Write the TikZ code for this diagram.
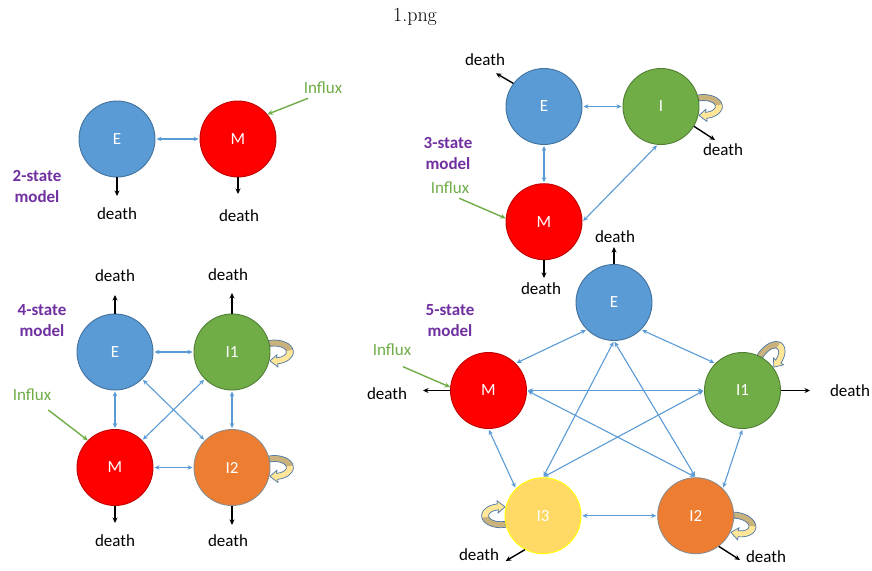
\documentclass[tikz,border=0pt]{standalone}
\usepackage{fontspec}
\newfontfamily\carl{Carlito}
\usetikzlibrary{arrows.meta}
\definecolor{eblue}{HTML}{5B9BD5}
\definecolor{eblued}{HTML}{41719C}
\definecolor{mred}{HTML}{FF0000}
\definecolor{mredd}{HTML}{C00000}
\definecolor{igreen}{HTML}{70AD47}
\definecolor{igreend}{HTML}{507E32}
\definecolor{iorange}{HTML}{ED7D31}
\definecolor{iorganged}{HTML}{8C8C8C}
\definecolor{iyellow}{HTML}{FFD966}
\definecolor{iyellowd}{HTML}{FFFF00}
\definecolor{mpurple}{HTML}{7030A0}
\definecolor{loopl}{HTML}{FFE699}
\definecolor{loopd}{HTML}{C9B27C}
\definecolor{loopo}{HTML}{4A76A8}
\pgfdeclarelayer{bg}
\pgfdeclarelayer{paper}
\pgfsetlayers{paper,bg,main}
\tikzset{
  st/.style={circle, minimum size=76pt, inner sep=0pt, line width=0.9pt, text=white, font=\carl\fontsize{17}{20}\selectfont},
  se/.style={st, fill=eblue, draw=eblued},
  sm/.style={st, fill=mred, draw=mredd},
  si/.style={st, fill=igreen, draw=igreend},
  so/.style={st, fill=iorange, draw=iorganged},
  sy/.style={st, fill=iyellow, draw=iyellowd},
  lab/.style={font=\carl\fontsize{17}{20}\selectfont, inner sep=0pt},
  mdl/.style={font=\carl\bfseries\fontsize{17}{21}\selectfont, text=mpurple, align=center, inner sep=0pt},
  inf/.style={lab, text=igreen},
  conn/.style={draw=eblue, line width=1.1pt, {Stealth[length=5pt,width=4.5pt]}-{Stealth[length=5pt,width=4.5pt]}, shorten <=1pt, shorten >=1pt},
  dth/.style={draw=black, line width=1.4pt, -{Stealth[length=5.5pt,width=5pt]}},
  infar/.style={draw=igreen, line width=1.4pt, -{Stealth[length=5.5pt,width=5pt]}},
  selfloop/.pic={
    \fill[loopl] (-2.5pt,11.28pt) arc[start angle=110,end angle=-80,x radius=19pt,y radius=12pt] -- (7.6pt,-15pt) -- (-0.5pt,-8.9pt) -- (6.6pt,-2.6pt) -- (6.08pt,-5.91pt) arc[start angle=-80,end angle=110,x radius=12pt,y radius=6pt] -- cycle;
    \fill[loopd] (-2.5pt,11.28pt) arc[start angle=110,end angle=10,x radius=19pt,y radius=12pt] -- (15.82pt,1.04pt) arc[start angle=10,end angle=110,x radius=12pt,y radius=6pt] -- cycle;
    \draw[loopo, line width=0.7pt, line join=round] (-2.5pt,11.28pt) arc[start angle=110,end angle=-80,x radius=19pt,y radius=12pt] -- (7.6pt,-15pt) -- (-0.5pt,-8.9pt) -- (6.6pt,-2.6pt) -- (6.08pt,-5.91pt) arc[start angle=-80,end angle=110,x radius=12pt,y radius=6pt] -- cycle;
  }
}
\begin{document}
\begin{tikzpicture}[x=1pt,y=-1pt]
\useasboundingbox (0,0) rectangle (872,570);
\begin{pgfonlayer}{paper}
\fill[white] (0,0) rectangle (872,570);
\end{pgfonlayer}
\node[font=\fontsize{20}{24}\selectfont, inner sep=0pt] (title) at (415,17) {1.png};

% ---------- 2-state ----------
\node[se] (E2) at (117,139) {E};
\node[sm] (M2) at (238,139) {M};
\node[mdl] (L2) at (37,186.5) {2-state\\model};
\node[inf] (F2) at (323,88) {Influx};
\coordinate (f2) at (308,98.3);
\coordinate (d2e) at (117,196);
\coordinate (d2m) at (238,194);
\node[lab] (D2e) at (117,214) {death};
\node[lab] (D2m) at (239,216) {death};
\draw[conn] (E2.east) -- (M2.west);
\draw[dth] (E2.south) -- (d2e);
\draw[dth] (M2.south) -- (d2m);
\draw[infar] (f2) -- (M2.40);

% ---------- 3-state ----------
\node[se] (E3) at (544,106.5) {E};
\node[si] (I3) at (661,106.5) {I};
\node[sm] (M3) at (544,221.7) {M};
\node[mdl] (L3) at (448,153) {3-state\\model};
\node[inf] (F3) at (450,188) {Influx};
\coordinate (f3) at (459.3,198.3);
\coordinate (d3e) at (496,73.3);
\coordinate (d3i) at (715,140);
\coordinate (d3m) at (544,278);
\node[lab] (D3e) at (485,60) {death};
\node[lab] (D3i) at (723,150) {death};
\node[lab] (D3m) at (541,289) {death};
\draw[conn] (E3.east) -- (I3.west);
\draw[conn] (E3.south) -- (M3.north);
\draw[conn] (I3.-95) -- (M3.east);
\draw[dth] (E3.143) -- (d3e);
\draw[dth] (I3.-31) -- (d3i);
\draw[dth] (M3.south) -- (d3m);
\draw[infar] (f3) -- (M3.175);
\begin{pgfonlayer}{bg}
\pic at (I3.east) {selfloop};
\end{pgfonlayer}

% ---------- 4-state ----------
\node[se] (E4) at (115,352) {E};
\node[si] (I14) at (232,352) {I1};
\node[sm] (M4) at (115,467.5) {M};
\node[so] (I24) at (232,467.5) {I2};
\node[mdl] (L4) at (42,321) {4-state\\model};
\node[inf] (F4) at (32,395) {Influx};
\coordinate (f4) at (48.3,410);
\coordinate (d4e) at (115,295);
\coordinate (d4i1) at (232,293);
\coordinate (d4m) at (115,523);
\coordinate (d4i2) at (232,525);
\node[lab] (D4e) at (115,276) {death};
\node[lab] (D4i1) at (228,275) {death};
\node[lab] (D4m) at (115,541) {death};
\node[lab] (D4i2) at (228,541) {death};
\draw[conn] (E4.east) -- (I14.west);
\draw[conn] (E4.south) -- (M4.north);
\draw[conn] (I14.south) -- (I24.north);
\draw[conn] (M4.east) -- (I24.west);
\draw[conn] (E4.south east) -- (I24.north west);
\draw[conn] (I14.south west) -- (M4.north east);
\draw[dth] (E4.north) -- (d4e);
\draw[dth] (I14.north) -- (d4i1);
\draw[dth] (M4.south) -- (d4m);
\draw[dth] (I24.south) -- (d4i2);
\draw[infar] (f4) -- (M4.north west);
\begin{pgfonlayer}{bg}
\pic at (I14.east) {selfloop};
\pic at (I24.east) {selfloop};
\end{pgfonlayer}

% ---------- 5-state ----------
\node[se] (E5) at (614,302.5) {E};
\node[sm] (M5) at (488.5,390.5) {M};
\node[si] (I15) at (742.5,390.5) {I1};
\node[so] (I25) at (695.7,515.7) {I2};
\node[sy] (I35) at (543,515.7) {I3};
\node[mdl] (L5) at (450,321) {5-state\\model};
\node[inf] (F5) at (392,350) {Influx};
\coordinate (f5) at (403,366.7);
\coordinate (d5e) at (614,247);
\coordinate (d5m) at (423,390.5);
\coordinate (d5i1) at (810,390.5);
\coordinate (d5i3) at (505.7,561);
\coordinate (d5i2) at (740,560);
\node[lab] (D5e) at (615,237) {death};
\node[lab] (D5m) at (387,394) {death};
\node[lab] (D5i1) at (850,391) {death};
\node[lab] (D5i3) at (479,555) {death};
\node[lab] (D5i2) at (766,557) {death};
\draw[conn] (E5.south west) -- (M5.north east);
\draw[conn] (E5.south east) -- (I15.north west);
\draw[conn] (E5.south) -- (I35.north);
\draw[conn] (E5.south) -- (I25.north);
\draw[conn] (M5.east) -- (I15.west);
\draw[conn] (M5.east) -- (I25.north);
\draw[conn] (I15.west) -- (I35.north);
\draw[conn] (M5.south) -- (I35.north west);
\draw[conn] (I15.south) -- (I25.north east);
\draw[conn] (I35.east) -- (I25.west);
\draw[dth] (E5.north) -- (d5e);
\draw[dth] (M5.west) -- (d5m);
\draw[dth] (I15.east) -- (d5i1);
\draw[dth] (I35.-118) -- (d5i3);
\draw[dth] (I25.-53) -- (d5i2);
\draw[infar] (f5) -- (M5.175);
\begin{pgfonlayer}{bg}
\pic[rotate=50] at (I15.50) {selfloop};
\pic[rotate=-12] at (I25.-12) {selfloop};
\pic[rotate=180] at (I35.180) {selfloop};
\end{pgfonlayer}
\end{tikzpicture}
\end{document}
